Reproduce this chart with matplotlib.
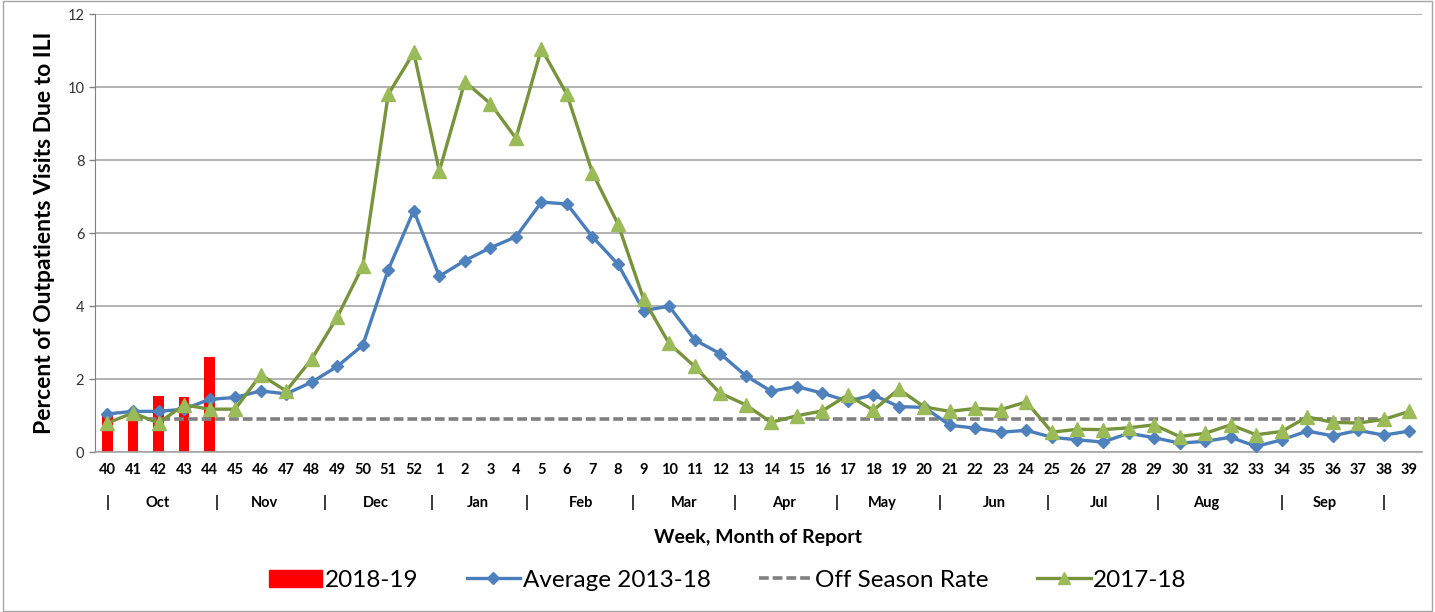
import numpy as np
import matplotlib.pyplot as plt
from matplotlib.lines import Line2D
from matplotlib.patches import Patch, Rectangle

plt.rcParams['font.family'] = ['Lato', 'DejaVu Sans']

weeks = [40, 41, 42, 43, 44, 45, 46, 47, 48, 49, 50, 51, 52,
         1, 2, 3, 4, 5, 6, 7, 8, 9, 10, 11, 12, 13, 14, 15, 16, 17, 18, 19, 20,
         21, 22, 23, 24, 25, 26, 27, 28, 29, 30, 31, 32, 33, 34, 35, 36, 37, 38, 39]

season_1819 = [1.0, 1.1, 1.55, 1.5, 2.6]

avg_1318 = [1.05, 1.12, 1.12, 1.18, 1.45, 1.5, 1.68, 1.6, 1.92, 2.35, 2.93, 5.0, 6.62,
            4.82, 5.25, 5.6, 5.9, 6.85, 6.8, 5.9, 5.15, 3.88, 4.0, 3.08, 2.7, 2.1,
            1.67, 1.8, 1.62, 1.4, 1.57, 1.25, 1.23, 0.74, 0.66, 0.55, 0.6, 0.41,
            0.34, 0.28, 0.52, 0.4, 0.25, 0.3, 0.41, 0.16, 0.34, 0.58, 0.45, 0.6,
            0.47, 0.58]

season_1718 = [0.8, 1.08, 0.8, 1.3, 1.18, 1.18, 2.12, 1.68, 2.55, 3.7, 5.1, 9.8, 10.95,
               7.7, 10.15, 9.55, 8.6, 11.05, 9.8, 7.65, 6.25, 4.2, 2.98, 2.35, 1.62,
               1.3, 0.82, 1.0, 1.13, 1.57, 1.15, 1.73, 1.24, 1.12, 1.2, 1.17, 1.38,
               0.55, 0.63, 0.62, 0.67, 0.75, 0.43, 0.52, 0.75, 0.48, 0.57, 0.97,
               0.82, 0.8, 0.9, 1.12]

off_season = 0.9

months = ['Oct', 'Nov', 'Dec', 'Jan', 'Feb', 'Mar', 'Apr', 'May', 'Jun', 'Jul', 'Aug', 'Sep']
month_pos = [1.96, 6.15, 10.53, 14.49, 18.57, 22.6, 26.5, 30.36, 34.74, 38.85, 43.05, 47.67]
sep_pos = [0, 4.27, 8.5, 12.7, 16.41, 20.56, 24.56, 28.55, 32.59, 36.82, 41.13, 46.0, 50.0]

x = np.arange(len(weeks))

blue_line = '#4A7EBB'
blue_mark = '#4F81BD'
green_line = '#77933C'
green_mark = '#9BBB59'
gray = '#808080'

fig = plt.figure(figsize=(14.35, 6.12), dpi=100)
ax = fig.add_axes([0.066, 0.261, 0.925, 0.716])

ax.bar(x[:len(season_1819)], season_1819, width=0.42, color='#FF0000', zorder=2)
ax.plot(x[1:-1], [off_season] * (len(x) - 2), color=gray, lw=2.6,
        dashes=(2.7, 1.1), zorder=3)
ax.plot(x, avg_1318, color=blue_line, lw=2.4, marker='D', ms=6.5,
        mfc=blue_mark, mec=blue_mark, zorder=4)
ax.plot(x, season_1718, color=green_line, lw=2.4, marker='^', ms=10,
        mfc=green_mark, mec=green_mark, zorder=5)

ax.set_xlim(-0.5, 51.5)
ax.set_ylim(0, 12)
ax.set_yticks(range(0, 13, 2))
ax.tick_params(axis='y', labelsize=10.5, colors='#333333', length=4, width=1)
ax.tick_params(axis='y', color=gray)
ax.set_xticks(x)
ax.set_xticklabels([str(w) for w in weeks], fontsize=10.5, fontweight='bold')
ax.tick_params(axis='x', length=0, pad=8)
ax.yaxis.grid(True, color='#A6A6A6', lw=1.2)
ax.set_axisbelow(True)
for s in ['top', 'right']:
    ax.spines[s].set_visible(False)
ax.spines['left'].set_color(gray)
ax.spines['bottom'].set_color('#A6A6A6')
ax.spines['bottom'].set_linewidth(1.2)

trans = ax.get_xaxis_transform()
for m, p in zip(months, month_pos):
    ax.text(p, -0.115, m, transform=trans, ha='center', va='center',
            fontsize=10.5, fontweight='bold')
for p in sep_pos:
    ax.text(p, -0.115, '|', transform=trans, ha='center', va='center',
            fontsize=11, fontweight='bold')

ax.set_ylabel('Percent of Outpatients Visits Due to ILI', fontsize=16.5,
              fontweight='bold', labelpad=9)
ax.text(0.5, -0.195, 'Week, Month of Report', transform=ax.transAxes,
        ha='center', va='center', fontsize=14, fontweight='bold')

handles = [Patch(color='#FF0000'),
           Line2D([], [], color=blue_line, lw=2.4, marker='D', ms=6, mfc=blue_mark, mec=blue_mark),
           Line2D([], [], color=gray, lw=2.6, dashes=(2.7, 1.1)),
           Line2D([], [], color=green_line, lw=2.4, marker='^', ms=9, mfc=green_mark, mec=green_mark)]
labels = ['2018-19', 'Average 2013-18', 'Off Season Rate', '2017-18']
fig.legend(handles, labels, loc='center', bbox_to_anchor=(0.507, 0.052), ncol=4,
           frameon=False, fontsize=17.5, handlelength=2.2, handletextpad=0.1,
           columnspacing=2.0)

fig.add_artist(Rectangle((0.002, 0.002), 0.996, 0.996, transform=fig.transFigure,
                         fill=False, edgecolor='#A6A6A6', lw=1))

fig.savefig('out.png', dpi=100)
